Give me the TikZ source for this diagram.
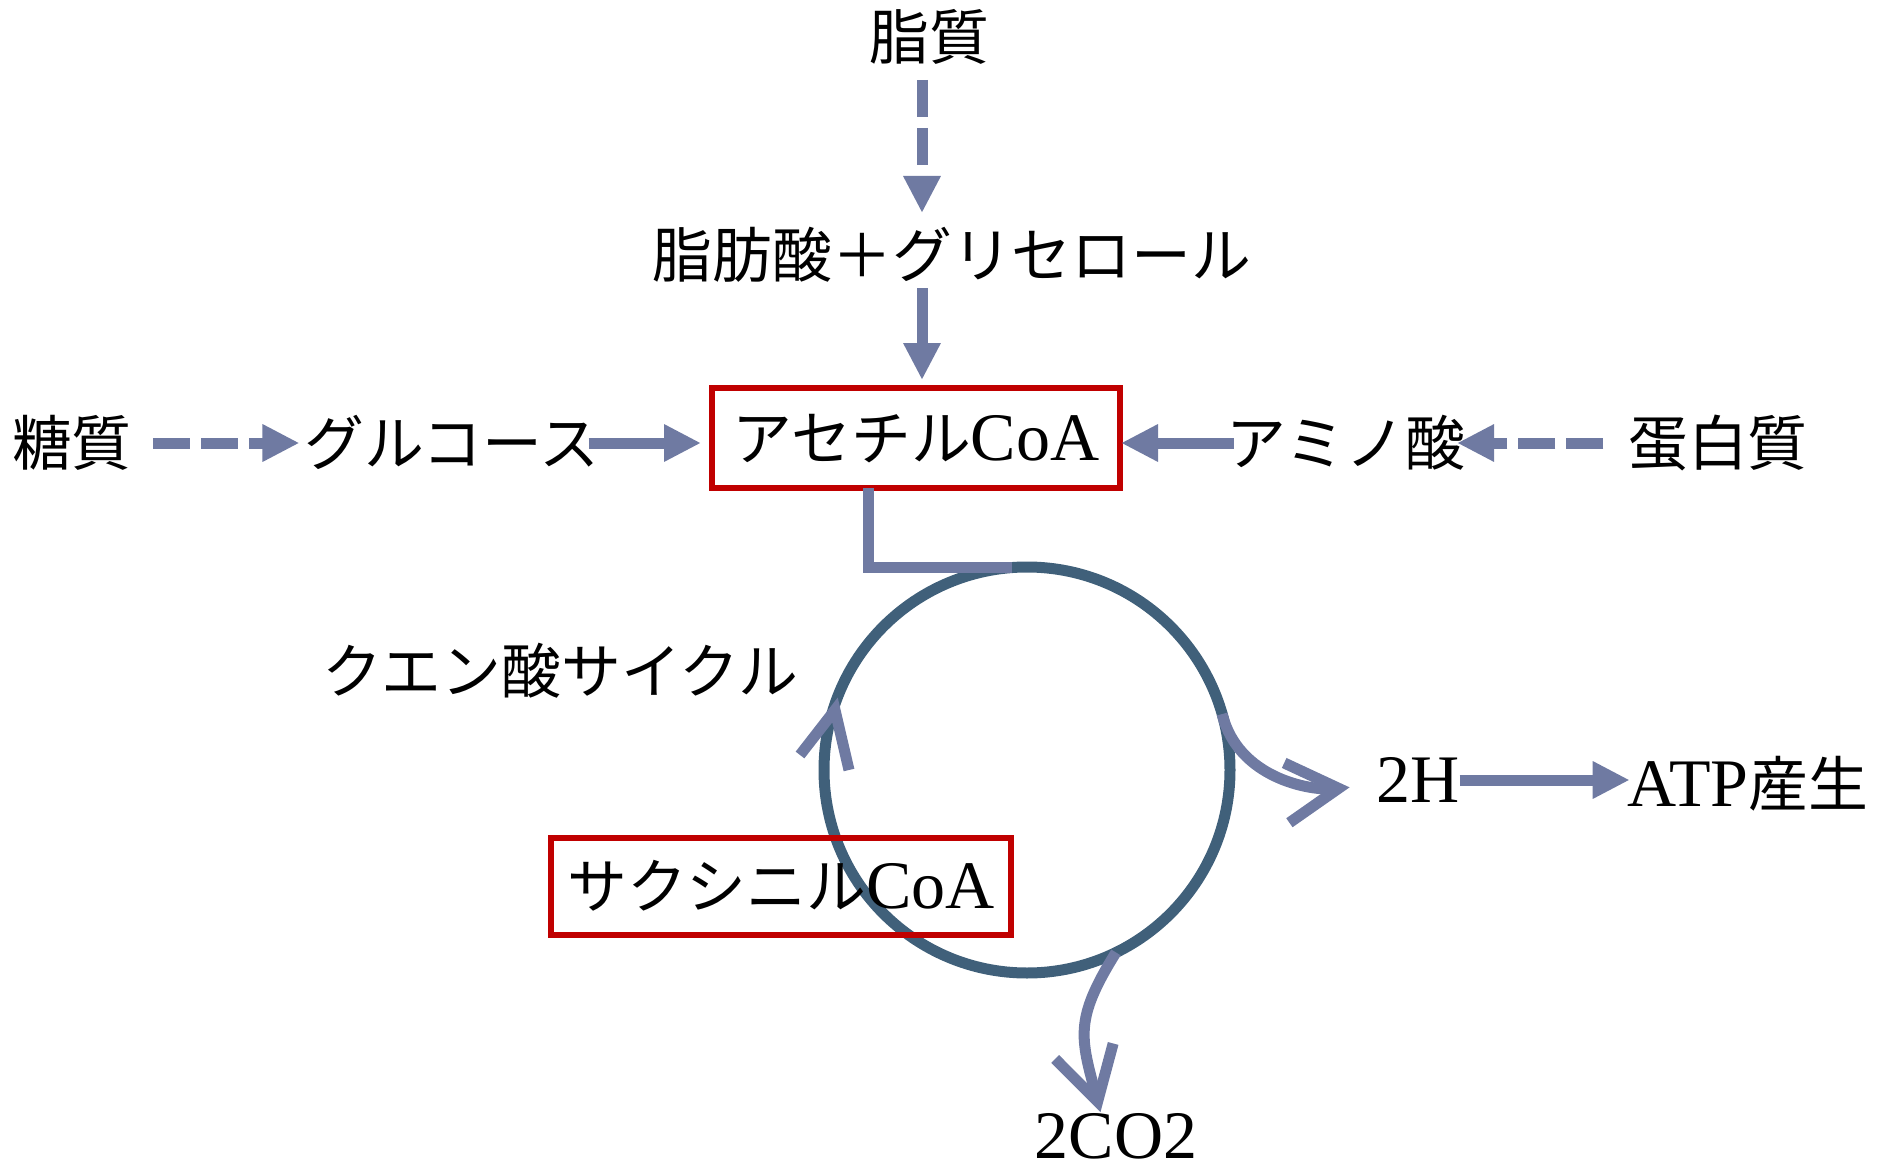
\documentclass[tikz,border=0pt]{standalone}
\usepackage{fontspec}
\setmainfont{Liberation Serif}
\newfontfamily\jp[Scale=0.88]{Noto Sans CJK JP}
\usetikzlibrary{arrows.meta}
\definecolor{arr}{RGB}{111,122,162}
\definecolor{cycc}{RGB}{64,96,122}
\definecolor{boxred}{RGB}{192,0,0}
\begin{document}
\begin{tikzpicture}[x=0.5pt,y=-0.5pt,
  txt/.style={inner sep=0pt, outer sep=0pt, text height=22pt, text depth=0pt, font=\fontsize{34pt}{40pt}\selectfont},
  redbox/.style={txt, draw=boxred, line width=3pt, rectangle},
  solidarr/.style={draw=arr, line width=5.5pt, -{Triangle[length=18.5pt,width=17.5pt]}},
  dasharr/.style={solidarr, dash pattern=on 18.5pt off 5.5pt},
  barbarr/.style={draw=arr, line width=5.5pt, -{Straight Barb[length=26pt,width=30pt]}},
  conn/.style={draw=arr, line width=5.5pt},
]
\useasboundingbox (0,0) rectangle (1880,1172);
% cycle
\node[circle, draw=cycc, line width=5.5pt, minimum size=203pt, inner sep=0pt, outer sep=0pt] (cyc) at (1027,770) {};
% text nodes
\node[txt] (tou) at (72,443) {\jp 糖質};
\node[txt] (glu) at (452,443) {\jp グルコース};
\node[redbox, minimum width=204pt, minimum height=50pt] (ace) at (916,438) {{\jp アセチル}CoA};
\node[txt] (amino) at (1346,443) {\jp アミノ酸};
\node[txt] (prot) at (1718,443) {\jp 蛋白質};
\node[txt] (shi) at (929,38) {\jp 脂質};
\node[txt] (fat) at (952,255) {\jp 脂肪酸＋グリセロール};
\node[txt] (tca) at (560,671) {\jp クエン酸サイクル};
\node[redbox, minimum width=230pt, minimum height=48.5pt] (suc) at (781,886) {{\jp サクシニル}CoA};
\node[txt] (h2) at (1418,780) {2H};
\node[txt] (atp) at (1748,784) {ATP{\jp 産生}};
\node[txt] (co2) at (1116,1136) {2CO2};
% connectors
\draw[dasharr, shorten <=10.5pt, shorten >=2.5pt] (tou.east) -- (glu.west);
\draw[solidarr, shorten <=-5.5pt, shorten >=5.5pt] (glu.east) -- (glu.east -| ace.west);
\draw[solidarr, shorten <=-3.5pt, shorten >=0.5pt] (amino.west) -- (amino.west -| ace.east);
\draw[dasharr, shorten <=12.5pt, shorten >=-4pt] (prot.west) -- (amino.east);
\draw[dasharr, shorten <=10pt, shorten >=10pt] ([xshift=-3.5pt]shi.south) -- ([xshift=-3.5pt]shi.south |- fat.north);
\draw[solidarr, shorten <=5.5pt, shorten >=4pt] ([xshift=-15pt]fat.south) -- ([xshift=-15pt]fat.south |- ace.north);
\draw[conn] ([xshift=-24pt]ace.south) |- ([xshift=-7.5pt]cyc.north);
% chevron on the cycle
\coordinate (ch1) at (800,755);
\coordinate (cht) at (835,710);
\coordinate (ch2) at (849,770);
\draw[conn, line join=miter] (ch1) -- (cht) -- (ch2);
% outputs
\draw[barbarr, shorten >=13.5pt] (cyc.16) to[out=-76,in=185] ([yshift=-2.5pt]h2.west);
\draw[barbarr, shorten >=1pt] (cyc.-64) to[out=-122,in=105,looseness=1.25] ([xshift=-7.5pt]co2.north);
\draw[solidarr, shorten >=-1pt] (h2.east) -- (h2.east -| atp.west);
\end{tikzpicture}
\end{document}
